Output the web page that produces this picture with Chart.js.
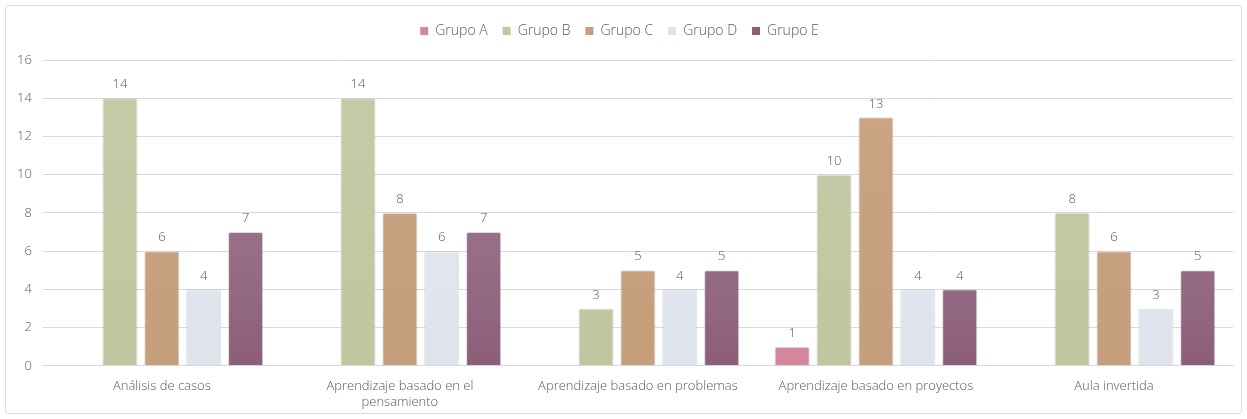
<!DOCTYPE html>
<html>
<head>
<meta charset="utf-8">
<script src="https://cdn.jsdelivr.net/npm/chart.js@4"></script>
<style>
    html, body { margin: 0; padding: 0; background: #fff; overflow: hidden; }
    #frame {
        position: absolute; left: 5px; top: 5px; width: 1237px; height: 409px;
        border: 1px solid #dcdcdc; border-radius: 3px; box-sizing: border-box;
    }
    #wrap { position: absolute; left: 0; top: 0; width: 1247px; height: 419px; }
</style>
</head>
<body>
<div id="frame"></div>
<div id="wrap"><canvas id="chart"></canvas></div>
<script>
// Chart data
const categories = [
    'Análisis de casos',
    ['Aprendizaje basado en el', 'pensamiento'],
    'Aprendizaje basado en problemas',
    'Aprendizaje basado en proyectos',
    'Aula invertida'
];
const grupoA = [null, null, null, 1, null];
const grupoB = [14, 14, 3, 10, 8];
const grupoC = [6, 8, 5, 13, 6];
const grupoD = [4, 6, 4, 4, 3];
const grupoE = [7, 7, 5, 4, 5];
const yTicks = [0, 2, 4, 6, 8, 10, 12, 14, 16];

const FONT = '"Open Sans", Lato, sans-serif';

const groupColors = {
    'Grupo A': ['#dc95a8', '#d4879c'],
    'Grupo B': ['#c6cba8', '#c1c6a0'],
    'Grupo C': ['#cba584', '#c59e7c'],
    'Grupo D': ['#e4e8f0', '#dfe3eb'],
    'Grupo E': ['#aa869d', '#8c5f79']
};

function gradientFor(name) {
    return (ctx) => {
        const area = ctx.chart.chartArea;
        if (!area) return groupColors[name][1];
        const g = ctx.chart.ctx.createLinearGradient(0, area.top, 0, area.bottom);
        g.addColorStop(0, groupColors[name][0]);
        g.addColorStop(1, groupColors[name][1]);
        return g;
    };
}

// Draw value labels above bars
const valueLabels = {
    id: 'valueLabels',
    afterDatasetsDraw(chart) {
        const ctx = chart.ctx;
        ctx.save();
        ctx.font = '300 13px ' + FONT;
        ctx.fillStyle = '#595959';
        ctx.textAlign = 'center';
        ctx.textBaseline = 'bottom';
        chart.data.datasets.forEach((ds, i) => {
            chart.getDatasetMeta(i).data.forEach((bar, j) => {
                const v = ds.data[j];
                if (v === null || v === undefined) return;
                ctx.fillText(String(v), bar.x, bar.y - 7);
            });
        });
        ctx.restore();
    }
};

// Extra room under the legend
const legendMargin = {
    id: 'legendMargin',
    beforeInit(chart) {
        const fit = chart.legend.fit;
        chart.legend.fit = function () {
            fit.bind(chart.legend)();
            this.height += 12;
        };
    }
};

const makeDataset = (label, data) => ({
    label: label,
    data: data,
    backgroundColor: gradientFor(label),
    borderColor: 'rgba(160,160,160,0.35)',
    borderWidth: 1,
    borderRadius: 2,
    categoryPercentage: 0.88,
    barPercentage: 0.84,
    skipNull: false
});

new Chart(document.getElementById('chart'), {
    type: 'bar',
    data: {
        labels: categories,
        datasets: [
            makeDataset('Grupo A', grupoA),
            makeDataset('Grupo B', grupoB),
            makeDataset('Grupo C', grupoC),
            makeDataset('Grupo D', grupoD),
            makeDataset('Grupo E', grupoE)
        ]
    },
    options: {
        responsive: true,
        maintainAspectRatio: false,
        animation: false,
        layout: { padding: { left: 6, right: 14, top: 9, bottom: 4 } },
        plugins: {
            legend: {
                position: 'top',
                labels: {
                    boxWidth: 8,
                    boxHeight: 8,
                    padding: 15,
                    color: '#595959',
                    font: { family: FONT, size: 14, weight: '300' },
                    generateLabels(chart) {
                        return chart.data.datasets.map((ds, i) => ({
                            text: ds.label,
                            fillStyle: groupColors[ds.label][1],
                            strokeStyle: groupColors[ds.label][1],
                            lineWidth: 0,
                            datasetIndex: i,
                            fontColor: '#595959'
                        }));
                    }
                }
            },
            tooltip: { enabled: false }
        },
        scales: {
            x: {
                grid: { display: false },
                border: { color: '#d9d9d9' },
                ticks: {
                    color: '#595959',
                    maxRotation: 0,
                    autoSkip: false,
                    padding: 5,
                    font: { family: FONT, size: 13, weight: '300' }
                }
            },
            y: {
                min: 0,
                max: 16,
                afterBuildTicks(axis) {
                    axis.ticks = yTicks.map(v => ({ value: v }));
                },
                grid: { color: '#d9d9d9', drawTicks: false },
                border: { display: false },
                ticks: {
                    color: '#595959',
                    padding: 11,
                    font: { family: FONT, size: 13, weight: '300' }
                }
            }
        }
    },
    plugins: [valueLabels, legendMargin]
});
</script>
</body>
</html>
